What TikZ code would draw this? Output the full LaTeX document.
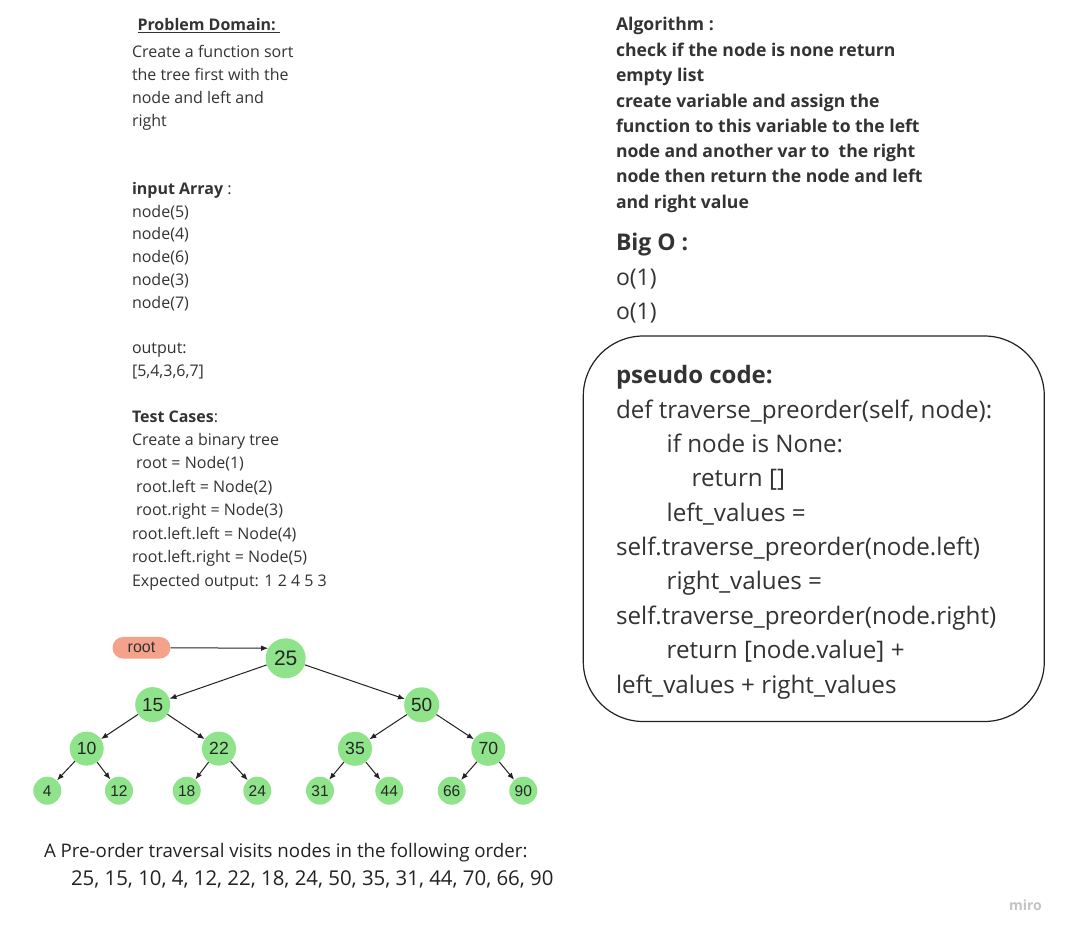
\documentclass[tikz,border=0pt]{standalone}
\usepackage{fontspec}
\setmainfont{Open Sans}
\newfontfamily\arialf{Liberation Sans}
\usetikzlibrary{arrows.meta}
\definecolor{txt}{HTML}{333333}
\definecolor{dark}{HTML}{222222}
\definecolor{nodegreen}{HTML}{8FE38B}
\definecolor{salmon}{HTML}{F4A28C}
\definecolor{wm}{HTML}{C4C4C4}
\tikzset{
  line/.style={anchor=base west, inner sep=0pt, outer sep=0pt, text=txt},
  lefttext/.style={line, font=\fontsize{16}{20}\selectfont},
  algotext/.style={line, font=\fontsize{17.6}{20}\selectfont\bfseries},
  bigtext/.style={line, font=\fontsize{23}{28}\selectfont},
  codetext/.style={line, font=\fontsize{24.2}{28}\selectfont},
  bottomtext/.style={line, text=dark},
  tnode/.style={circle, fill=nodegreen, inner sep=0pt, text=black!85, font=\arialf},
  lvzero/.style={tnode, minimum size=40pt, font=\arialf\fontsize{21}{21}\selectfont},
  lvone/.style={tnode, minimum size=35pt, font=\arialf\fontsize{19}{19}\selectfont},
  lvtwo/.style={tnode, minimum size=34pt, font=\arialf\fontsize{17.6}{17.6}\selectfont},
  lvthree/.style={tnode, minimum size=28pt, font=\arialf\fontsize{15.5}{15.5}\selectfont},
  edge/.style={draw=dark, line width=1pt, -{Latex[length=7pt,width=5.5pt]}},
  codebox/.style={draw=dark, line width=1.2pt, rounded corners=60pt}
}
\begin{document}
\begin{tikzpicture}[x=1pt, y=-1pt]
\useasboundingbox (0,0) rectangle (1068,936);
\fill[white] (0,0) rectangle (1068,936);

% ---------- left column ----------
\node[lefttext, font=\fontsize{16}{20}\selectfont\bfseries] (pd) at (137.5,30.7) {Problem Domain:};
\draw[txt, line width=0.9pt] ([yshift=-2.2pt]pd.base west) -- ([yshift=-2.2pt]pd.base east) -- ++(4.5,0);
\node[lefttext] (l1) at (132,57.7) {Create a function sort};
\node[lefttext] (l2) at (132,80.6) {the tree first with the};
\node[lefttext] (l3) at (132,103.5) {node and left and};
\node[lefttext] (l4) at (132,126.4) {right};
\node[lefttext] (l5) at (132,195) {\textbf{input Array} :};
\node[lefttext] (l6) at (132,217.5) {node(5)};
\node[lefttext] (l7) at (132,240) {node(4)};
\node[lefttext] (l8) at (132,262.5) {node(6)};
\node[lefttext] (l9) at (132,285.5) {node(3)};
\node[lefttext] (l10) at (132,308) {node(7)};
\node[lefttext] (l11) at (132,353) {output:};
\node[lefttext] (l12) at (132,376.5) {[5,4,3,6,7]};
\node[lefttext] (l13) at (132,422) {\textbf{Test Cases}:};
\node[lefttext] (l14) at (132,445) {Create a binary tree};
\node[lefttext] (l15) at (132,468.5) {\ root = Node(1)};
\node[lefttext] (l16) at (132,492) {\ root.left = Node(2)};
\node[lefttext] (l17) at (132,515) {\ root.right = Node(3)};
\node[lefttext] (l18) at (132,539) {root.left.left = Node(4)};
\node[lefttext] (l19) at (132,562.5) {root.left.right = Node(5)};
\node[lefttext] (l20) at (132,586.5) {Expected output: 1 2 4 5 3};

% ---------- right column: algorithm ----------
\node[algotext] (a1) at (616,31) {Algorithm :};
\node[algotext] (a2) at (616,56.7) {check if the node is none return};
\node[algotext] (a3) at (616,82) {empty list};
\node[algotext] (a4) at (616,107.5) {create variable and assign the};
\node[algotext] (a5) at (616,132.7) {function to this variable to the left};
\node[algotext] (a6) at (616,157.7) {node and another var to \ the right};
\node[algotext] (a7) at (616,182.8) {node then return the node and left};
\node[algotext] (a8) at (616,208) {and right value};

\node[bigtext, font=\fontsize{23}{28}\selectfont\bfseries] (bo) at (616,251) {Big O :};
\node[bigtext] (o1) at (616,285) {o(1)};
\node[bigtext] (o2) at (616,319) {o(1)};

% ---------- pseudo code box ----------
\draw[codebox] (583.3,336) rectangle (1044.3,721.5);
\node[codetext, font=\fontsize{24}{28}\selectfont\bfseries] (c0) at (616,383.5) {pseudo code:};
\node[codetext] (c1) at (616,418) {def traverse\_preorder(self, node):};
\node[codetext] (c2) at (666.7,452.3) {if node is None:};
\node[codetext] (c3) at (691.7,486.6) {return []};
\node[codetext] (c4) at (666.7,521) {left\_values =};
\node[codetext] (c5) at (616,555.5) {self.traverse\_preorder(node.left)};
\node[codetext] (c6) at (666.7,589.8) {right\_values =};
\node[codetext] (c7) at (616,624.3) {self.traverse\_preorder(node.right)};
\node[codetext] (c8) at (666.7,658.7) {return [node.value] +};
\node[codetext] (c9) at (616,693) {left\_values + right\_values};

% ---------- tree ----------
\node[fill=salmon, rounded corners=10.8pt, minimum width=58pt, minimum height=21.7pt, inner sep=0pt,
      font=\arialf\fontsize{16}{16}\selectfont, text=black!80] (root) at (141.5,647.8) {root};

\node[lvzero] (n25) at (285.7,658.3) {25};
\node[lvone] (n15) at (152.7,704.6) {15};
\node[lvone] (n50) at (421.7,704.8) {50};
\node[lvtwo] (n10) at (86.7,748.6) {10};
\node[lvtwo] (n22) at (219,748.6) {22};
\node[lvtwo] (n35) at (355,748.8) {35};
\node[lvtwo] (n70) at (488.3,748.8) {70};
\node[lvthree] (n4) at (47.3,790.7) {4};
\node[lvthree] (n12) at (119,790.7) {12};
\node[lvthree] (n18) at (186.7,790.7) {18};
\node[lvthree] (n24) at (257.3,790.7) {24};
\node[lvthree] (n31) at (320,790.7) {31};
\node[lvthree] (n44) at (389.3,790.7) {44};
\node[lvthree] (n66) at (451.7,790.7) {66};
\node[lvthree] (n90) at (523.3,790.7) {90};

\draw[edge] (root.east) -- (n25.150);
\draw[edge] (n25) -- (n15);
\draw[edge] (n25) -- (n50);
\draw[edge] (n15) -- (n10);
\draw[edge] (n15) -- (n22);
\draw[edge] (n50) -- (n35);
\draw[edge] (n50) -- (n70);
\draw[edge] (n10) -- (n4);
\draw[edge] (n10) -- (n12);
\draw[edge] (n22) -- (n18);
\draw[edge] (n22) -- (n24);
\draw[edge] (n35) -- (n31);
\draw[edge] (n35) -- (n44);
\draw[edge] (n70) -- (n66);
\draw[edge] (n70) -- (n90);

% ---------- bottom text ----------
\node[bottomtext, font=\fontsize{18.7}{24}\selectfont] (b1) at (44,857.6) {A Pre-order traversal visits nodes in the following order:};
\node[bottomtext, font=\fontsize{20.4}{24}\selectfont] (b2) at (71,885.5) {25, 15, 10, 4, 12, 22, 18, 24, 50, 35, 31, 44, 70, 66, 90};

% ---------- watermark ----------
\node[line, text=wm, font=\fontsize{14}{14}\selectfont\bfseries] (miro) at (1009,910) {miro};
\end{tikzpicture}
\end{document}
